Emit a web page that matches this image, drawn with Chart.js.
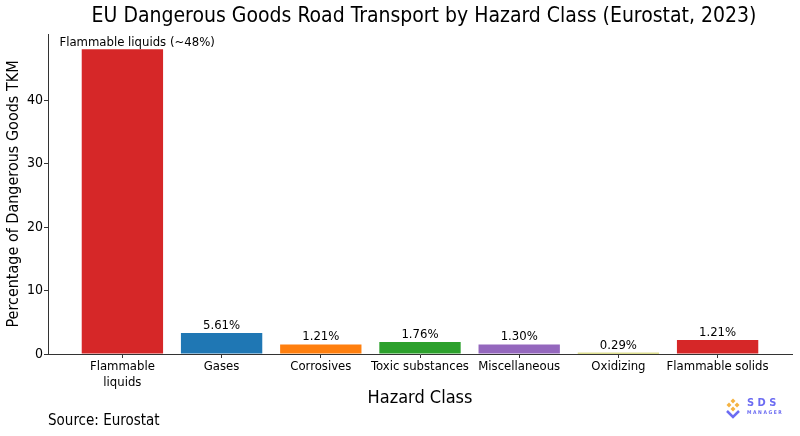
<!DOCTYPE html>
<html>
<head>
    <title>EU Dangerous Goods Road Transport</title>
    <script src="https://cdn.jsdelivr.net/npm/chart.js"></script>
    <style>
        body { margin: 0; background: #ffffff; }
        canvas { display: block; }
    </style>
</head>
<body>
    <canvas id="hazardChart" width="800" height="436"></canvas>

    <script>
        // data
        var categories = ['Flammable liquids', 'Gases', 'Corrosives', 'Toxic substances', 'Miscellaneous', 'Oxidizing', 'Flammable solids'];
        var tickLabels = [['Flammable', 'liquids'], 'Gases', 'Corrosives', 'Toxic substances', 'Miscellaneous', 'Oxidizing', 'Flammable solids'];
        var barValues = [48, 3.3, 1.5, 1.9, 1.5, 0.2, 2.2];
        var barLabels = ['Flammable liquids (~48%)', '5.61%', '1.21%', '1.76%', '1.30%', '0.29%', '1.21%'];
        var barColors = ['#d62728', '#1f77b4', '#ff7f0e', '#2ca02c', '#9467bd', '#bcbd22', '#d62728'];
        var yTicks = [0, 10, 20, 30, 40];

        var FONT = "'DejaVu Sans Condensed', 'DejaVu Sans', sans-serif";
        Chart.defaults.font.family = FONT;
        Chart.defaults.color = '#000';

        // title, bar labels, source note and logo
        var extras = {
            id: 'extras',
            afterDatasetsDraw: function(chart) {
                var ctx = chart.ctx;
                var area = chart.chartArea;
                var bars = chart.getDatasetMeta(0).data;
                ctx.save();
                ctx.fillStyle = '#000';

                ctx.font = '21px ' + FONT;
                ctx.textAlign = 'center';
                ctx.textBaseline = 'middle';
                ctx.fillText('EU Dangerous Goods Road Transport by Hazard Class (Eurostat, 2023)', 424, 17);

                ctx.font = '13px ' + FONT;
                ctx.textBaseline = 'alphabetic';
                bars.forEach(function(bar, i) {
                    if (i === 0) {
                        ctx.textAlign = 'left';
                        ctx.fillText(barLabels[i], bar.x - 63, bar.y - 3);
                    } else {
                        ctx.textAlign = 'center';
                        ctx.fillText(barLabels[i], bar.x, bar.y - 4);
                    }
                });

                ctx.font = '15px ' + FONT;
                ctx.textAlign = 'left';
                ctx.textBaseline = 'middle';
                ctx.fillText('Source: Eurostat', area.left, 421);

                // small SDS Manager mark
                var lx = 733, ly = 407;
                ctx.fillStyle = '#f5b342';
                [[0, -6], [-4, -2], [4, -2], [0, 2]].forEach(function(p) {
                    ctx.beginPath();
                    ctx.moveTo(lx + p[0], ly + p[1] - 2.5);
                    ctx.lineTo(lx + p[0] + 2.5, ly + p[1]);
                    ctx.lineTo(lx + p[0], ly + p[1] + 2.5);
                    ctx.lineTo(lx + p[0] - 2.5, ly + p[1]);
                    ctx.closePath();
                    ctx.fill();
                });
                ctx.strokeStyle = '#6c6cf2';
                ctx.lineWidth = 2.5;
                ctx.beginPath();
                ctx.moveTo(lx - 6, ly + 4);
                ctx.lineTo(lx, ly + 10);
                ctx.lineTo(lx + 6, ly + 4);
                ctx.stroke();
                ctx.fillStyle = '#6c6cf2';
                ctx.font = 'bold 11px ' + FONT;
                ctx.fillText('S D S', lx + 14, ly - 4);
                ctx.font = 'bold 5px ' + FONT;
                ctx.fillText('M A N A G E R', lx + 14, ly + 6);
                ctx.restore();
            }
        };

        var ctx = document.getElementById('hazardChart').getContext('2d');
        var hazardChart = new Chart(ctx, {
            type: 'bar',
            data: {
                datasets: [{
                    data: barValues.map(function(v, i) { return { x: i, y: v }; }),
                    backgroundColor: barColors,
                    borderWidth: 0,
                    categoryPercentage: 1,
                    barPercentage: 0.82
                }]
            },
            options: {
                responsive: false,
                animation: false,
                layout: { padding: { left: 0, right: 8, top: 34, bottom: 30 } },
                plugins: {
                    legend: { display: false },
                    tooltip: { enabled: false }
                },
                scales: {
                    x: {
                        type: 'linear',
                        offset: false,
                        min: -0.75,
                        max: 6.75,
                        afterBuildTicks: function(scale) {
                            scale.ticks = categories.map(function(c, i) { return { value: i }; });
                        },
                        afterFit: function(scale) { scale.height = 52; },
                        ticks: {
                            autoSkip: false,
                            maxRotation: 0,
                            padding: 1,
                            font: { size: 13 },
                            callback: function(value) { return tickLabels[value]; }
                        },
                        grid: { drawOnChartArea: false, offset: false, tickLength: 4, color: '#333' },
                        border: { color: '#333' },
                        title: {
                            display: true,
                            text: 'Hazard Class',
                            font: { size: 18 },
                            padding: { top: 0, bottom: -3 }
                        }
                    },
                    y: {
                        min: 0,
                        max: 50.4,
                        afterBuildTicks: function(scale) {
                            scale.ticks = yTicks.map(function(v) { return { value: v }; });
                        },
                        afterFit: function(scale) { scale.width = 48; },
                        ticks: { padding: 1, font: { size: 14 } },
                        grid: { drawOnChartArea: false, tickLength: 4, color: '#333' },
                        border: { color: '#333' },
                        title: {
                            display: true,
                            text: 'Percentage of Dangerous Goods TKM',
                            font: { size: 16 },
                            padding: { top: 4, bottom: 0 }
                        }
                    }
                }
            },
            plugins: [extras]
        });
    </script>
</body>
</html>
